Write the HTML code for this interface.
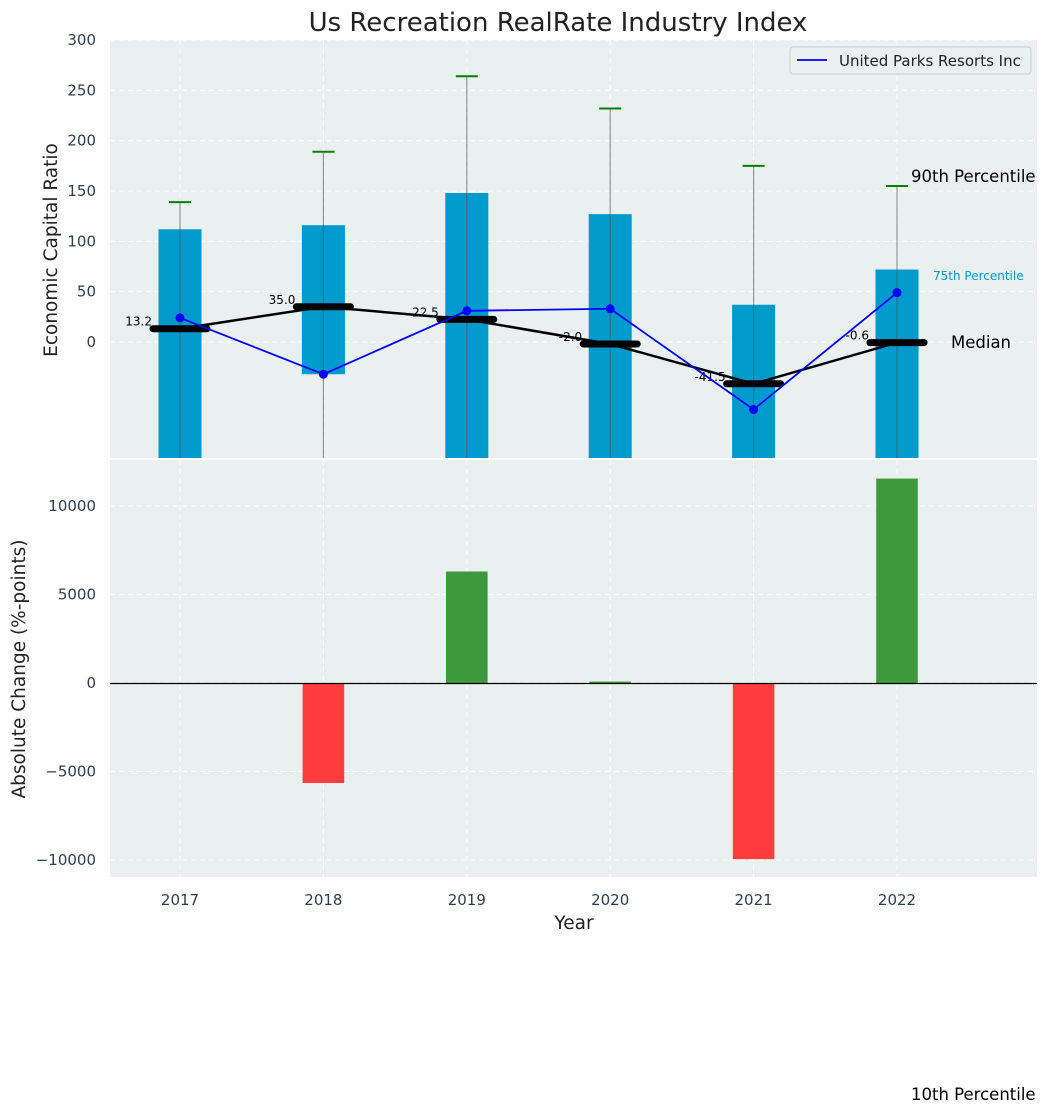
<!DOCTYPE html>
<html><head><meta charset="utf-8"><style>
body{margin:0;background:#fff;font-family:"Liberation Sans","DejaVu Sans",sans-serif}
svg text{font-family:"DejaVu Sans","Liberation Sans",sans-serif}
</style></head><body>
<svg id="c" width="1048" height="1113" xmlns="http://www.w3.org/2000/svg"></svg>
<script>
const years=[2017,2018,2019,2020,2021,2022];
const p90=[139,189,264,232,175,155];
const p75=[112,116,148,127,37,72];
const p25=[-200,-32,-200,-200,-200,-200];
const p10=[-400,-400,-400,-400,-400,-400];
const medians=[13.2,35.0,22.5,-2.0,-41.5,-0.6];
const company=[24,-32,31,33,-67,49];
const changes=[0,-5650,6300,80,-9950,11550];
const topTicks=[0,50,100,150,200,250,300];
const botTicks=[-10000,-5000,0,5000,10000];

const S=document.getElementById('c');const NS='http://www.w3.org/2000/svg';
function el(t,a,txt){const e=document.createElementNS(NS,t);for(const k in a)e.setAttribute(k,a[k]);if(txt!==undefined)e.textContent=txt;S.appendChild(e);return e;}
const L=110,R=1037,T1=40,B1=458,T2=460,B2=877;
const x=i=>180+i*143.4;
const xu=143.4;
const y1=v=>342-v*(302/300);
const y2=v=>683-v*(177/10000);

el('rect',{x:L,y:T1,width:R-L,height:B1-T1,fill:'#eaeff0'});
el('rect',{x:L,y:T2,width:R-L,height:B2-T2,fill:'#eaeff0'});
const clip=el('clipPath',{id:'cp1'});const cr=document.createElementNS(NS,'rect');cr.setAttribute('x',L);cr.setAttribute('y',T1);cr.setAttribute('width',R-L);cr.setAttribute('height',B1-T1);clip.appendChild(cr);

topTicks.forEach(t=>{el('line',{x1:L,x2:R,y1:y1(t),y2:y1(t),stroke:'#fff','stroke-dasharray':'5,4','stroke-width':1});
 const tx=el('text',{x:96,y:y1(t)+5,'text-anchor':'end','font-size':15,fill:'#2f3e4e'},t);});
botTicks.forEach(t=>{el('line',{x1:L,x2:R,y1:y2(t),y2:y2(t),stroke:'#fff','stroke-dasharray':'5,4','stroke-width':1});
 const tx=el('text',{x:96,y:y2(t)+5,'text-anchor':'end','font-size':15,fill:'#2f3e4e'},t<0?'\u2212'+(-t):t);});
years.forEach((yr,i)=>{el('line',{x1:x(i),x2:x(i),y1:T1,y2:B1,stroke:'#fff','stroke-dasharray':'5,4'});el('line',{x1:x(i),x2:x(i),y1:T2,y2:B2,stroke:'#fff','stroke-dasharray':'5,4'});
 const tx=el('text',{x:x(i),y:905,'text-anchor':'middle','font-size':15,fill:'#2f3e4e'},yr);});

const g=el('g',{'clip-path':'url(#cp1)'});
function gel(t,a){const e=document.createElementNS(NS,t);for(const k in a)e.setAttribute(k,a[k]);g.appendChild(e);return e;}
years.forEach((yr,i)=>{
 const b=gel('rect',{x:x(i)-0.15*xu,y:y1(p75[i]),width:0.3*xu,height:y1(p25[i])-y1(p75[i]),fill:'#009acd'});
 
 const w=gel('line',{x1:x(i),x2:x(i),y1:y1(p10[i]),y2:y1(p90[i]),stroke:'#555','stroke-opacity':0.6,'stroke-width':1.2});
 
 const c=gel('line',{x1:x(i)-11,x2:x(i)+11,y1:y1(p90[i]),y2:y1(p90[i]),stroke:'green','stroke-width':2});
 
});
const mp=gel('polyline',{points:medians.map((m,i)=>x(i)+','+y1(m)).join(' '),fill:'none',stroke:'#000','stroke-width':2.5});

medians.forEach((m,i)=>{const ln=gel('line',{x1:x(i)-27,x2:x(i)+27,y1:y1(m),y2:y1(m),stroke:'#000','stroke-width':7,'stroke-linecap':'round'});
 
 const t=gel('text',{x:x(i)-28,y:y1(m)-3,'text-anchor':'end','font-size':12,fill:'#000'});t.textContent=m.toFixed(1);
 });
const cp=gel('polyline',{points:company.map((v,i)=>x(i)+','+y1(v)).join(' '),fill:'none',stroke:'#0000ff','stroke-width':1.8});

company.forEach((v,i)=>{const d=gel('circle',{cx:x(i),cy:y1(v),r:4.5,fill:'#0000ff'});});

changes.forEach((v,i)=>{const r=el('rect',{x:x(i)-0.145*xu,y:Math.min(y2(v),y2(0)),width:0.29*xu,height:Math.abs(y2(v)-y2(0)),fill:v>=0?'#3c9a3c':'#ff3d3d'});
 });
const zl=el('line',{x1:L,x2:R,y1:683.5,y2:683.5,stroke:'#000','stroke-width':1.3});

function T(n,a,s){const t=el('text',a,s);return t;}
T('chart-title',{x:558,y:31,'text-anchor':'middle','font-size':26,fill:'#222'},'Us Recreation RealRate Industry Index');
T('y-axis-title',{x:57,y:250,'text-anchor':'middle','font-size':18.5,fill:'#222',transform:'rotate(-90 57 250)'},'Economic Capital Ratio');
T('y2-axis-title',{x:25,y:669,'text-anchor':'middle','font-size':18.5,fill:'#222',transform:'rotate(-90 25 669)'},'Absolute Change (%-points)');
T('x-axis-title',{x:574,y:929,'text-anchor':'middle','font-size':18.5,fill:'#222'},'Year');
T('p90-label',{x:911,y:182,'font-size':16.5,fill:'#000'},'90th Percentile');
T('p75-label',{x:933,y:280,'font-size':12,fill:'#009acd'},'75th Percentile');
T('median-text',{x:951,y:348,'font-size':16.5,fill:'#000'},'Median');
T('p10-label',{x:911,y:1100,'font-size':16.5,fill:'#000'},'10th Percentile');
const lg=el('rect',{x:790,y:47,width:241,height:27,rx:3,fill:'#eaeff0',stroke:'#ccc'});
el('line',{x1:797,x2:827,y1:60,y2:60,stroke:'#0000ff','stroke-width':1.8});
T('legend-entry',{x:839,y:66,'font-size':15,fill:'#222'},'United Parks Resorts Inc');
</script>
</body></html>
